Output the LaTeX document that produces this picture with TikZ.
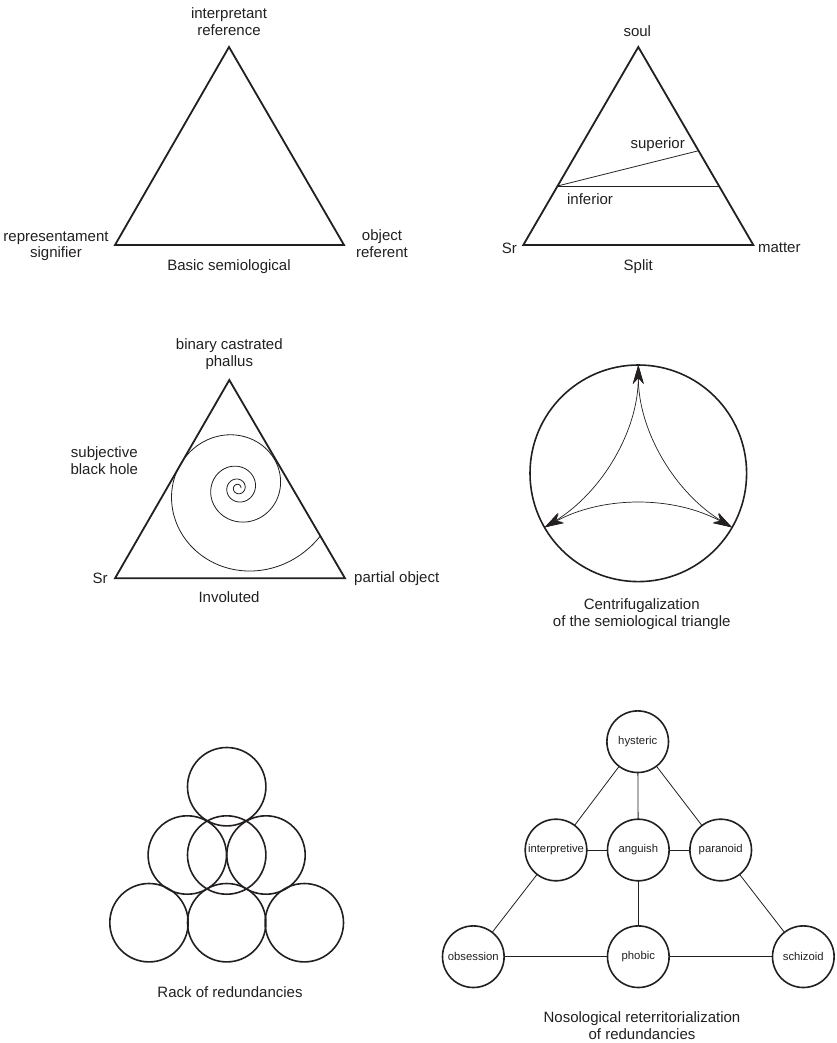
\documentclass[tikz,border=0pt]{standalone}
\usepackage{fontspec}
\setmainfont{Liberation Sans}
\usetikzlibrary{arrows.meta,calc}
\definecolor{ink}{RGB}{35,31,32}
\begin{document}
\begin{tikzpicture}[x=1pt,y=-1pt,
  lbl/.style={font=\fontsize{15}{16.5}\selectfont, inner sep=0pt, align=center, text=ink},
  tri/.style={draw=ink, line width=1.8pt, line join=miter},
  thinline/.style={draw=ink, line width=0.8pt},
  ring/.style={circle, draw=ink, line width=1.6pt, inner sep=0pt, outer sep=0pt},
  rackc/.style={ring, minimum size=78.4pt},
  nos/.style={ring, minimum size=61.6pt, font=\fontsize{11.3}{13}\selectfont, text=ink},
  edge/.style={draw=ink, line width=0.8pt},
  arr/.style={draw=ink, line width=0.7pt, <->, >={Stealth[length=19pt,width=11pt,inset=6pt]}}]
\useasboundingbox (0,0) rectangle (837,1043);

% ---------- Basic semiological ----------
\coordinate (A1) at (229,47);
\coordinate (L1) at (115,245);
\coordinate (R1) at (344,245);
\draw[tri] (A1) -- (L1) -- (R1) -- cycle;
\node[lbl] (t1top) at (229,21.5) {interpretant\\reference};
\node[lbl] (t1left) at (56,246) {representament\\signifier};
\node[lbl] (t1right) at (382,243.5) {object\\referent};
\node[lbl] (t1cap) at (229,267) {Basic semiological};

% ---------- Split ----------
\coordinate (A2) at (638.3,47);
\coordinate (L2) at (523.3,245);
\coordinate (R2) at (753.3,245);
\draw[tri] (A2) -- (L2) -- (R2) -- cycle;
\coordinate (s1) at ($(L2)!0.298!(A2)$);
\coordinate (s2) at ($(R2)!0.298!(A2)$);
\coordinate (s3) at ($(R2)!0.476!(A2)$);
\draw[thinline] (s1) -- (s2);
\draw[thinline] (s1) -- (s3);
\node[lbl] (soul) at (637.3,30.7) {soul};
\node[lbl] (sr2) at (509.3,248) {Sr};
\node[lbl] (matter) at (779.3,248) {matter};
\node[lbl] (split) at (638.3,266.7) {Split};
\node[lbl] (sup) at (657.7,144.3) {superior};
\node[lbl] (inf) at (590,199.3) {inferior};

% ---------- Involuted ----------
\coordinate (A3) at (229.3,380);
\coordinate (L3) at (115,578.3);
\coordinate (R3) at (345,578.3);
\draw[tri] (A3) -- (L3) -- (R3) -- cycle;
\draw[thinline] plot[domain=30:1440, samples=600, smooth, variable=\t]
  ({238+82.2*exp(-0.002466*(\t-90))*cos(\t)}, {488+82.2*exp(-0.002466*(\t-90))*sin(\t)});
\node[lbl] (phallus) at (229.3,354) {binary castrated\\phallus};
\node[lbl] (bh) at (104.3,460.5) {subjective\\black hole};
\node[lbl] (sr3) at (100,578.3) {Sr};
\node[lbl, anchor=west] (po) at (354,578.3) {partial object};
\node[lbl] (invol) at (229,597) {Involuted};

% ---------- Centrifugalization ----------
\node[ring, minimum size=216.6pt] (cc) at (638.3,473.3) {};
\draw[arr] (cc.90) .. controls +(0,66.6) and +(56.8,-34.7) .. (cc.210);
\draw[arr] (cc.90) .. controls +(0,66.6) and +(-56.8,-34.7) .. (cc.330);
\draw[arr] (cc.210) .. controls +(58.5,-31.9) and +(-58.5,-31.9) .. (cc.330);
\node[lbl] (ccap) at (641.7,614) {Centrifugalization\\of the semiological triangle};

% ---------- Rack of redundancies ----------
\node[rackc] (k1) at (226.7,786.7) {};
\node[rackc] (k2) at (187.3,855) {};
\node[rackc] (k3) at (226.7,855) {};
\node[rackc] (k4) at (266,855) {};
\node[rackc] (k5) at (149,922.7) {};
\node[rackc] (k6) at (226.7,922.7) {};
\node[rackc] (k7) at (304.3,922.7) {};
\node[lbl] (rcap) at (230,991.7) {Rack of redundancies};

% ---------- Nosological reterritorialization ----------
\node[nos] (hys) at (637.7,741.7) {hysteric};
\node[nos] (int) at (556,850) {interpretive};
\node[nos] (ang) at (638.3,850) {anguish};
\node[nos] (par) at (720.7,850) {paranoid};
\node[nos] (obs) at (473.3,956.7) {obsession};
\node[nos] (pho) at (638.3,956.7) {phobic};
\node[nos] (sch) at (803.3,956.7) {schizoid};
\draw[edge] (hys) -- (int);
\draw[edge] (hys) -- (ang);
\draw[edge] (hys) -- (par);
\draw[edge] (int) -- (ang);
\draw[edge] (ang) -- (par);
\draw[edge] (int) -- (obs);
\draw[edge] (ang) -- (pho);
\draw[edge] (par) -- (sch);
\draw[edge] (obs) -- (pho);
\draw[edge] (pho) -- (sch);
\node[lbl] (ncap) at (642,1025.5) {Nosological reterritorialization\\of redundancies};
\end{tikzpicture}
\end{document}
